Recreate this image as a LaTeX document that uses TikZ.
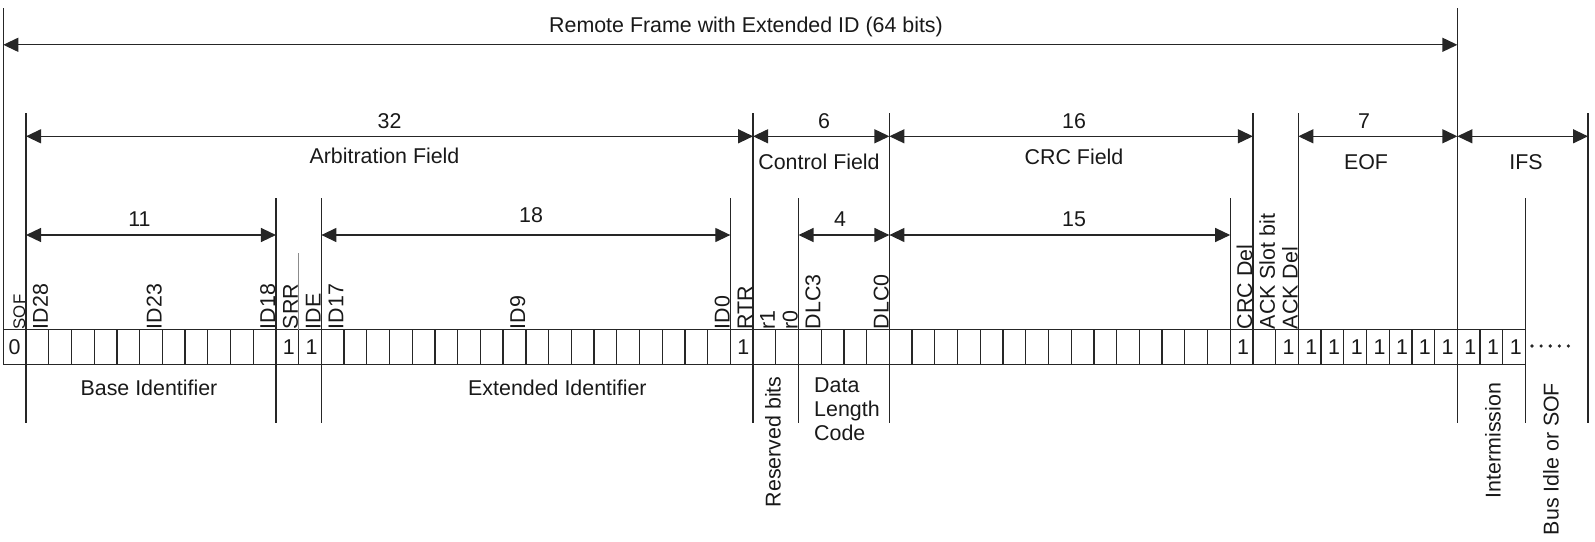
\documentclass[tikz,border=0pt]{standalone}
\usepackage{fontspec}
\setmainfont{Liberation Sans}
\usetikzlibrary{arrows.meta}

\begin{document}
\begin{tikzpicture}[
	x=0.5pt, y=-0.5pt,
	every node/.style={ inner sep=0pt, text=black!90, font=\fontsize{10.7}{12.2}\selectfont },
	cell/.style={ draw=black!85, line width=0.65pt, minimum width=11.36pt, minimum height=17.3pt },
	fieldlbl/.style={ rotate=90, anchor=base west },
	sublbl/.style={ rotate=90, anchor=east },
	bound/.style={ draw=black!85, line width=0.65pt },
	dimline/.style={ bound, {Triangle[length=7.5pt,width=7pt]}-{Triangle[length=7.5pt,width=7pt]} }
]
\useasboundingbox (0,0) rectangle (1595,541);

% bit boundaries on the top edge of the row
\foreach \k in {0,...,67} \coordinate (b\k) at ({3.3+\k*22.72},329.6);
\coordinate (bend) at (1588,329.6);
\coordinate (ytop) at (0,8);
\coordinate (y2) at (0,113);
\coordinate (y3) at (0,198);
\coordinate (ysrr) at (0,253);
\coordinate (yrow) at (0,329.6);
\coordinate (ylow) at (0,422.5);
\coordinate (a1) at (0,44.8);
\coordinate (a2) at (0,136.3);
\coordinate (a3) at (0,235);

\foreach \k in {0,...,66} \node[cell] (c\k) at ({3.3+(\k+0.5)*22.72},347) {};
\node (v0) at (c0) {0};
\foreach \k in {12,13,32,54,56,57,...,66} \node (v\k) at ([xshift=0.8pt]c\k) {1};
\foreach \i in {0,...,4} \fill[black!85] ({1532+\i*9.1},346) circle (1.8);

\foreach \b/\s/\e in {b0/ytop/yrow, b1/y2/ylow, b12/y3/ylow, b14/y3/ylow, b32/y3/yrow, b33/y2/ylow,
	b35/y3/ylow, b39/y2/ylow, b54/y3/yrow, b55/y2/yrow, b57/y2/yrow, b64/ytop/ylow, b67/y3/ylow, bend/y2/ylow}
	\draw[bound] (\b |- \s) -- (\b |- \e);
\draw[bound, draw=black!45] (b13 |- ysrr) -- (b13);

\draw[dimline] (b0 |- a1) -- (b64 |- a1);
\foreach \s/\e in {b1/b33, b33/b39, b39/b55, b57/b64, b64/bend} \draw[dimline] (\s |- a2) -- (\e |- a2);
\foreach \s/\e in {b1/b12, b14/b32, b35/b39, b39/b54} \draw[dimline] (\s |- a3) -- (\e |- a3);

\node[anchor=base] (title) at (746,32.1) {Remote Frame with Extended ID (64 bits)};
\node[anchor=base] (narb) at (389.6,128.7) {32};
\node[anchor=base] (larb) at (384.5,163.3) {Arbitration Field};
\node[anchor=base] (nctl) at (824,128.7) {6};
\node[anchor=base] (lctl) at (819,169.4) {Control Field};
\node[anchor=base] (ncrc) at (1074,128.7) {16};
\node[anchor=base] (lcrc) at (1074,164.3) {CRC Field};
\node[anchor=base] (neof) at (1364,128.7) {7};
\node[anchor=base] (leof) at (1366,169.4) {EOF};
\node[anchor=base] (lifs) at (1526,169.4) {IFS};
\node[anchor=base] (nbase) at (139.4,226.4) {11};
\node[anchor=base] (next) at (531,222.3) {18};
\node[anchor=base] (ndlc) at (840,226.4) {4};
\node[anchor=base] (nseq) at (1074,226.4) {15};

\node[fieldlbl, font=\fontsize{8.4}{10}\selectfont] (fsof) at ([xshift=-0.4pt]b1) {SOF};
\foreach \k/\t in {2/ID28, 7/ID23, 12/ID18, 13/SRR, 14/IDE, 15/ID17, 23/ID9, 32/ID0, 33/RTR, 34/r1, 35/r0,
	36/DLC3, 39/DLC0, 55/CRC Del, 56/ACK Slot bit, 57/ACK Del}
	\node[fieldlbl] (f\k) at ([xshift=-0.4pt]b\k) {\t};

\node[anchor=base] (lbase) at (149,395.3) {Base Identifier};
\node[anchor=base] (lext) at (557.4,395.3) {Extended Identifier};
\node[anchor=north west, align=left] (ldlc) at (813.8,376.9) {Data\\Length\\Code};
\node[sublbl] (lres) at (773,376) {Reserved bits};
\node[sublbl] (lint) at (1493,382.5) {Intermission};
\node[sublbl] (lidle) at (1551,382.5) {Bus Idle or SOF};

\end{tikzpicture}
\end{document}
